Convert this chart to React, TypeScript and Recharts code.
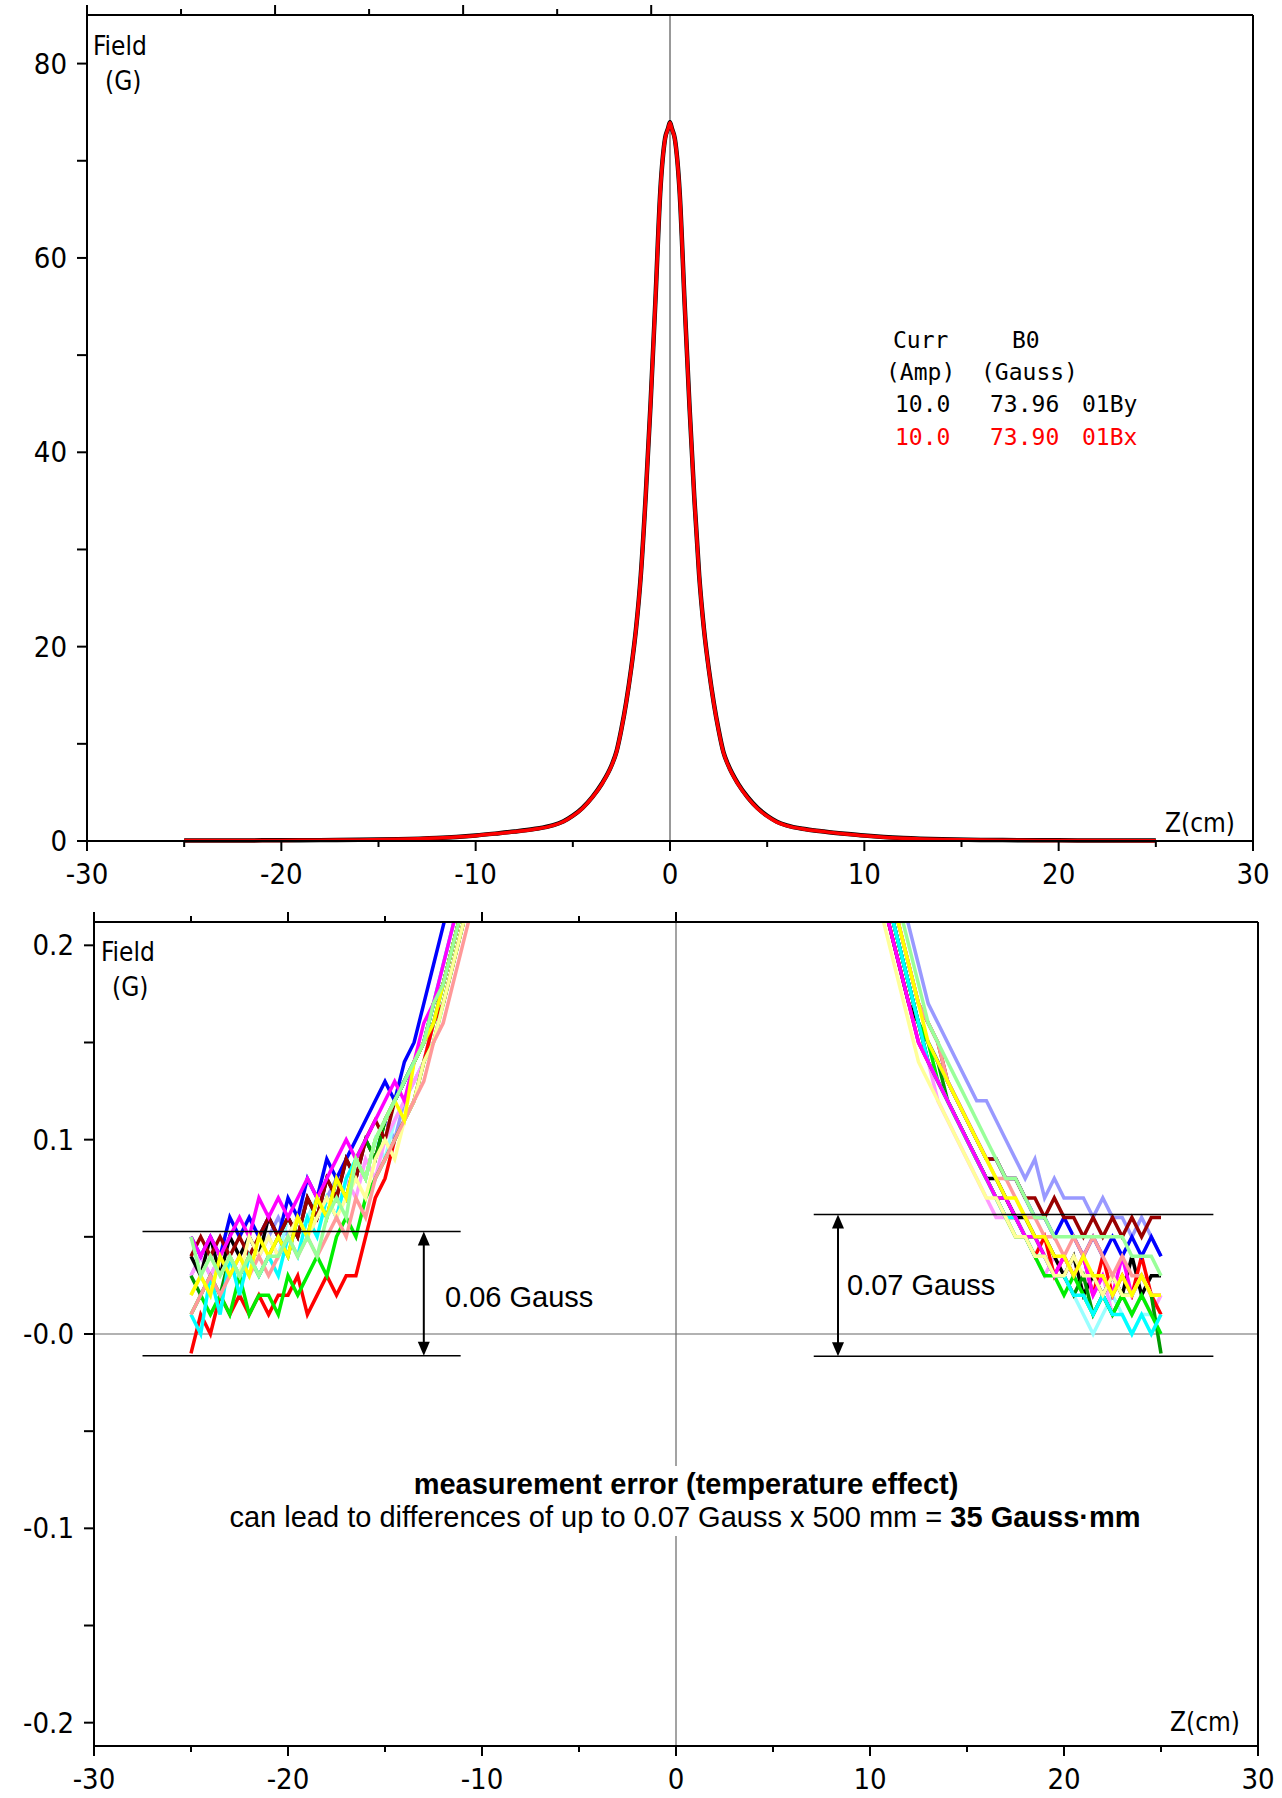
import React from 'react';
import { LineChart, Line, XAxis, YAxis, ReferenceLine } from 'recharts';

// ---- top panel: on-axis field profile, z in cm, field in gauss ----
const TOP_Z = [-25, -22, -20, -18, -16, -14, -12, -11, -10, -9, -8, -7, -6, -5.5, -5, -4.5, -4, -3.5, -3, -2.75, -2.5, -2.25, -2, -1.75, -1.5, -1.25, -1, -0.75, -0.5, -0.25, -0.1, 0, 0.1, 0.25, 0.5, 0.75, 1, 1.25, 1.5, 1.75, 2, 2.25, 2.5, 2.75, 3, 3.5, 4, 4.5, 5, 5.5, 6, 7, 8, 9, 10, 11, 12, 14, 16, 18, 20, 22, 25];
const BY_01 = [0.05, 0.06, 0.07, 0.09, 0.12, 0.18, 0.31, 0.42, 0.57, 0.76, 0.97, 1.23, 1.63, 2.01, 2.61, 3.42, 4.52, 5.92, 7.82, 9.22, 11.52, 14.32, 17.72, 21.82, 27.42, 35.52, 45.02, 55.62, 66.82, 72.32, 73.34, 73.96, 73.3, 72.25, 66.65, 55.45, 44.85, 35.35, 27.35, 21.75, 17.65, 14.25, 11.45, 9.15, 7.8, 5.9, 4.5, 3.4, 2.6, 1.99, 1.61, 1.21, 0.96, 0.75, 0.56, 0.41, 0.3, 0.17, 0.11, 0.085, 0.065, 0.055, 0.045];
const BX_01 = [0.04, 0.05, 0.06, 0.08, 0.11, 0.17, 0.3, 0.4, 0.55, 0.74, 0.95, 1.2, 1.6, 1.98, 2.58, 3.38, 4.48, 5.88, 7.78, 9.18, 11.48, 14.28, 17.68, 21.78, 27.38, 35.48, 44.98, 55.58, 66.78, 72.28, 73.28, 73.9, 73.25, 72.2, 66.6, 55.4, 44.8, 35.3, 27.3, 21.7, 17.6, 14.2, 11.4, 9.1, 7.75, 5.85, 4.45, 3.35, 2.55, 1.95, 1.58, 1.18, 0.94, 0.73, 0.54, 0.39, 0.29, 0.16, 0.1, 0.075, 0.055, 0.045, 0.035];

const LEGEND_ROWS = [
  { curr: '10.0', b0: '73.96', id: '01By', color: '#000000' },
  { curr: '10.0', b0: '73.90', id: '01Bx', color: '#ff0000' },
];

// ---- bottom panel: tails of repeated measurements, values in 0.01 G ----
const LEFT_Z = [-25, -24.5, -24, -23.5, -23, -22.5, -22, -21.5, -21, -20.5, -20, -19.5, -19, -18.5, -18, -17.5, -17, -16.5, -16, -15.5, -15, -14.5, -14, -13.5, -13, -12.5, -12, -11.5, -11, -10.5];
const RIGHT_Z = [10.5, 11, 11.5, 12, 12.5, 13, 13.5, 14, 14.5, 15, 15.5, 16, 16.5, 17, 17.5, 18, 18.5, 19, 19.5, 20, 20.5, 21, 21.5, 22, 22.5, 23, 23.5, 24, 24.5, 25];

const L_BLACK = [4, 3, 5, 3, 5, 4, 5, 4, 6, 5, 6, 5, 7, 6, 8, 7, 9, 8, 10, 9, 11, 12, 13, 14, 15, 17, 18, 20, 22, 24];
const L_RED = [-1, 1, 0, 2, 1, 2, 1, 2, 1, 2, 2, 3, 1, 2, 3, 2, 3, 3, 5, 7, 8, 10, 11, 12, 14, 16, 17, 19, 21, 23];
const L_GREEN = [1, 2, 1, 2, 1, 3, 1, 2, 2, 1, 3, 2, 3, 4, 3, 5, 6, 5, 7, 8, 9, 10, 11, 12, 14, 15, 17, 19, 21, 23];
const L_BLUE = [5, 4, 5, 4, 6, 5, 6, 5, 6, 5, 7, 6, 8, 7, 9, 8, 9, 10, 11, 12, 13, 12, 14, 15, 17, 19, 21, 23, 25, 27];
const L_YELLOW = [2, 3, 2, 4, 3, 4, 3, 5, 4, 5, 4, 6, 5, 7, 6, 8, 7, 9, 8, 10, 11, 12, 11, 14, 15, 16, 18, 20, 22, 24];
const L_MAGENTA = [5, 4, 5, 4, 5, 6, 5, 7, 6, 7, 6, 7, 8, 7, 8, 9, 10, 9, 10, 11, 12, 13, 12, 14, 16, 17, 19, 21, 23, 25];
const L_CYAN = [1, 0, 3, 1, 4, 2, 4, 3, 4, 3, 5, 4, 6, 5, 7, 6, 8, 9, 8, 10, 11, 12, 13, 14, 15, 17, 19, 21, 23, 25];
const L_DKGREEN = [3, 2, 3, 2, 4, 3, 4, 3, 4, 5, 4, 6, 5, 7, 6, 8, 7, 9, 10, 9, 11, 12, 13, 14, 15, 16, 18, 20, 22, 24];
const L_DKRED = [4, 5, 4, 5, 4, 5, 4, 5, 6, 5, 6, 5, 7, 6, 8, 7, 9, 8, 10, 11, 10, 12, 13, 14, 15, 17, 18, 20, 22, 24];
const L_SALMON = [1, 2, 3, 2, 3, 4, 3, 4, 3, 4, 5, 4, 5, 4, 5, 6, 5, 7, 6, 8, 9, 10, 11, 12, 13, 15, 16, 18, 20, 22];
const L_LTGREEN = [5, 3, 4, 3, 4, 3, 4, 3, 4, 4, 5, 4, 5, 4, 6, 7, 6, 9, 8, 10, 11, 12, 13, 14, 15, 17, 18, 20, 22, 24];
const L_LAVENDER = [3, 4, 3, 4, 5, 4, 5, 4, 5, 6, 5, 6, 7, 6, 7, 8, 7, 9, 8, 10, 11, 10, 12, 13, 14, 16, 17, 19, 21, 23];
const L_LTYELLOW = [2, 3, 4, 3, 4, 3, 5, 4, 5, 4, 5, 6, 5, 6, 7, 6, 7, 8, 7, 9, 10, 9, 11, 12, 14, 15, 17, 19, 21, 23];
const L_PINK = [3, 4, 3, 4, 3, 4, 5, 4, 5, 4, 5, 6, 5, 6, 7, 6, 8, 7, 9, 8, 10, 11, 12, 13, 14, 16, 17, 19, 21, 23];
const L_LTCYAN = [2, 3, 2, 4, 3, 4, 5, 4, 5, 4, 6, 5, 6, 7, 6, 8, 7, 9, 8, 10, 9, 11, 12, 13, 14, 16, 18, 20, 22, 24];

const R_BLACK = [23, 21, 19, 17, 16, 14, 13, 12, 11, 10, 9, 8, 8, 7, 6, 6, 5, 5, 4, 3, 4, 2, 3, 2, 3, 2, 4, 2, 3, 3];
const R_RED = [23, 21, 19, 17, 15, 14, 13, 12, 11, 10, 9, 8, 7, 6, 6, 5, 4, 5, 3, 4, 3, 4, 2, 4, 2, 3, 2, 4, 2, 1];
const R_GREEN = [24, 22, 20, 18, 16, 15, 13, 12, 11, 10, 9, 8, 7, 6, 5, 5, 4, 3, 3, 2, 3, 2, 1, 2, 1, 2, 1, 2, 1, 0];
const R_BLUE = [24, 22, 20, 18, 16, 15, 14, 13, 12, 11, 10, 9, 9, 8, 8, 7, 6, 6, 5, 6, 5, 4, 5, 4, 5, 4, 5, 4, 5, 4];
const R_YELLOW = [25, 23, 21, 19, 17, 15, 14, 13, 12, 11, 10, 9, 8, 7, 7, 6, 5, 5, 4, 4, 3, 4, 3, 3, 2, 3, 2, 3, 2, 2];
const R_MAGENTA = [23, 21, 19, 17, 15, 14, 13, 12, 11, 10, 9, 8, 7, 7, 6, 5, 5, 4, 3, 4, 3, 4, 2, 3, 2, 4, 2, 3, 2, 2];
const R_CYAN = [24, 22, 20, 18, 16, 14, 13, 12, 11, 10, 9, 8, 7, 6, 6, 5, 4, 4, 3, 3, 2, 2, 1, 2, 1, 1, 0, 1, 0, 1];
const R_DKGREEN = [24, 22, 20, 18, 16, 15, 14, 12, 11, 10, 9, 8, 7, 7, 6, 5, 5, 4, 3, 3, 2, 3, 1, 2, 1, 2, 2, 3, 2, -1];
const R_DKRED = [25, 23, 21, 19, 17, 16, 15, 13, 12, 11, 10, 9, 9, 8, 8, 7, 7, 6, 7, 6, 6, 5, 6, 5, 6, 5, 6, 5, 6, 6];
const R_SALMON = [25, 23, 21, 19, 17, 16, 15, 13, 12, 11, 10, 9, 8, 8, 7, 6, 6, 5, 5, 4, 5, 4, 5, 4, 3, 4, 3, 3, 2, 2];
const R_LTGREEN = [26, 24, 22, 20, 18, 16, 15, 14, 13, 12, 11, 10, 9, 8, 8, 7, 6, 6, 5, 5, 5, 5, 5, 5, 5, 5, 4, 4, 4, 3];
const R_LAVENDER = [27, 25, 23, 21, 19, 17, 16, 15, 14, 13, 12, 12, 11, 10, 9, 8, 9, 7, 8, 7, 7, 7, 6, 7, 6, 6, 5, 6, 5, 4];
const R_LTYELLOW = [22, 20, 18, 16, 14, 13, 12, 11, 10, 9, 8, 7, 7, 6, 5, 5, 4, 4, 3, 3, 4, 3, 3, 2, 3, 2, 2, 3, 2, 2];
const R_PINK = [23, 21, 19, 17, 15, 14, 12, 11, 10, 9, 8, 7, 6, 6, 5, 5, 4, 3, 4, 3, 2, 3, 2, 3, 1, 2, 1, 2, 1, 2];
const R_LTCYAN = [24, 22, 20, 18, 16, 14, 13, 12, 11, 10, 9, 8, 7, 7, 6, 5, 5, 4, 3, 3, 2, 1, 0, 1, 2, 1, 0, 1, 1, 0];

const TRACES = [
  { key: 'lavender', color: '#9999ff', left: L_LAVENDER, right: R_LAVENDER },
  { key: 'ltcyan', color: '#99ffff', left: L_LTCYAN, right: R_LTCYAN },
  { key: 'pink', color: '#ff99ff', left: L_PINK, right: R_PINK },
  { key: 'black', color: '#000000', left: L_BLACK, right: R_BLACK },
  { key: 'red', color: '#ff0000', left: L_RED, right: R_RED },
  { key: 'dkgreen', color: '#009900', left: L_DKGREEN, right: R_DKGREEN },
  { key: 'blue', color: '#0000ff', left: L_BLUE, right: R_BLUE },
  { key: 'dkred', color: '#990000', left: L_DKRED, right: R_DKRED },
  { key: 'green', color: '#00ee00', left: L_GREEN, right: R_GREEN },
  { key: 'cyan', color: '#00ffff', left: L_CYAN, right: R_CYAN },
  { key: 'magenta', color: '#ff00ff', left: L_MAGENTA, right: R_MAGENTA },
  { key: 'ltyellow', color: '#ffff99', left: L_LTYELLOW, right: R_LTYELLOW },
  { key: 'salmon', color: '#ff9999', left: L_SALMON, right: R_SALMON },
  { key: 'yellow', color: '#ffff00', left: L_YELLOW, right: R_YELLOW },
  { key: 'ltgreen', color: '#99ff99', left: L_LTGREEN, right: R_LTGREEN },
];

const Z_TICKS = [-30, -25, -20, -15, -10, -5, 0, 5, 10, 15, 20, 25, 30];
const TOP_Y_TICKS = [0, 10, 20, 30, 40, 50, 60, 70, 80];
const BOT_Y_TICKS = [-0.2, -0.15, -0.1, -0.05, 0, 0.05, 0.1, 0.15, 0.2];

const topRows = TOP_Z.map((z, i) => ({ z, by: BY_01[i], bx: BX_01[i] }));

const traceRow = (z: number, i: number, side: 'left' | 'right') => {
  const row: Record<string, number> = { z };
  TRACES.forEach(t => { row[t.key] = t[side][i] / 100; });
  return row;
};
const bottomRows = [
  ...LEFT_Z.map((z, i) => traceRow(z, i, 'left')),
  { z: 0 }, // break between the two tails
  ...RIGHT_Z.map((z, i) => traceRow(z, i, 'right')),
];

const PAW = "'DejaVu Sans Condensed', 'DejaVu Sans', sans-serif";
const MONO = "'DejaVu Sans Mono', monospace";
const HELV = "'Liberation Sans', Arial, sans-serif";
const AXIS_LINE = { stroke: '#000', strokeWidth: 2 };

const isMajorZ = (v: number) => Math.abs(Math.round(v)) % 10 === 0;

const ZTick = (p: any) => {
  const { x, y, payload, side, showLabel } = p;
  const v = payload.value;
  const len = isMajorZ(v) ? 10 : 6;
  const y2 = side === 'top' ? y - len : y + len;
  return (
    <g>
      <line x1={x} x2={x} y1={y} y2={y2} stroke="#000" strokeWidth={2} />
      {showLabel && isMajorZ(v) && (
        <text x={x} y={y + 33} textAnchor="middle" dominantBaseline="central" fontFamily={PAW} fontStretch="condensed" fontSize={29} fill="#000">
          {String(v)}
        </text>
      )}
    </g>
  );
};

const YTick = (p: any) => {
  const { x, y, payload, side, label } = p;
  const text = label ? label(payload.value) : null;
  const x2 = side === 'right' ? x + 10 : x - 10;
  return (
    <g>
      <line x1={x} x2={x2} y1={y} y2={y} stroke="#000" strokeWidth={2} />
      {text && (
        <text x={x - 20} y={y} textAnchor="end" dominantBaseline="central" fontFamily={PAW} fontStretch="condensed" fontSize={29} fill="#000">
          {text}
        </text>
      )}
    </g>
  );
};

const topLabel = (v: number) => (v % 20 === 0 ? String(v) : null);
const bottomLabel = (v: number) => {
  const c = Math.round(v * 100);
  if (c % 10 !== 0) return null;
  return c === 0 ? '-0.0' : v.toFixed(1);
};

const ArrowShape = (p: any) => {
  const { x1, y1, y2 } = p;
  const top = Math.min(y1, y2);
  const bot = Math.max(y1, y2);
  const h = 14;
  const w = 6;
  return (
    <g>
      <line x1={x1} x2={x1} y1={top + h - 2} y2={bot - h + 2} stroke="#000" strokeWidth={2} />
      <polygon points={`${x1},${top} ${x1 - w},${top + h} ${x1 + w},${top + h}`} fill="#000" />
      <polygon points={`${x1},${bot} ${x1 - w},${bot - h} ${x1 + w},${bot - h}`} fill="#000" />
    </g>
  );
};

const TopChart = () => (
  <LineChart width={1282} height={890} data={topRows} margin={{ top: 0, right: 0, bottom: 0, left: 0 }}>
    <XAxis dataKey="z" type="number" domain={[-30, 30]} ticks={Z_TICKS} interval={0} height={49}
      axisLine={AXIS_LINE} tickLine={false} tickSize={0} tickMargin={0}
      tick={(p: any) => <ZTick {...p} side="bottom" showLabel />} />
    <XAxis xAxisId="t" orientation="top" type="number" domain={[-30, 30]} ticks={Z_TICKS} interval={0} height={15}
      axisLine={AXIS_LINE} tickLine={false} tickSize={0} tickMargin={0}
      tick={(p: any) => <ZTick {...p} side="top" />} />
    <YAxis type="number" domain={[0, 85]} ticks={TOP_Y_TICKS} interval={0} width={87}
      axisLine={AXIS_LINE} tickLine={false} tickSize={0} tickMargin={0}
      tick={(p: any) => <YTick {...p} side="left" label={topLabel} />} />
    <YAxis yAxisId="r" orientation="right" type="number" domain={[0, 85]} ticks={TOP_Y_TICKS} interval={0} width={29}
      axisLine={AXIS_LINE} tickLine={false} tickSize={0} tickMargin={0}
      tick={(p: any) => <YTick {...p} side="right" />} />
    <ReferenceLine x={0} stroke="#777" strokeWidth={1.5} />
    <Line dataKey="by" type="monotone" stroke="#000000" strokeWidth={4.5} dot={false} isAnimationActive={false} />
    <Line dataKey="bx" type="monotone" stroke="#ff0000" strokeWidth={3.5} dot={false} isAnimationActive={false} />
  </LineChart>
);

const BottomChart = () => (
  <LineChart width={1282} height={908} data={bottomRows} margin={{ top: 0, right: 0, bottom: 0, left: 0 }}>
    <XAxis dataKey="z" type="number" domain={[-30, 30]} ticks={Z_TICKS} interval={0} height={52}
      axisLine={AXIS_LINE} tickLine={false} tickSize={0} tickMargin={0}
      tick={(p: any) => <ZTick {...p} side="bottom" showLabel />} />
    <XAxis xAxisId="t" orientation="top" type="number" domain={[-30, 30]} ticks={Z_TICKS} interval={0} height={32}
      axisLine={AXIS_LINE} tickLine={false} tickSize={0} tickMargin={0}
      tick={(p: any) => <ZTick {...p} side="top" />} />
    <YAxis type="number" domain={[-0.212, 0.212]} allowDataOverflow ticks={BOT_Y_TICKS} interval={0} width={94}
      axisLine={AXIS_LINE} tickLine={false} tickSize={0} tickMargin={0}
      tick={(p: any) => <YTick {...p} side="left" label={bottomLabel} />} />
    <YAxis yAxisId="r" orientation="right" type="number" domain={[-0.212, 0.212]} ticks={BOT_Y_TICKS} interval={0} width={24}
      axisLine={AXIS_LINE} tickLine={false} tickSize={0} tickMargin={0}
      tick={(p: any) => <YTick {...p} side="right" />} />
    <ReferenceLine x={0} stroke="#666" strokeWidth={1.2} />
    <ReferenceLine y={0} stroke="#666" strokeWidth={1.2} />
    {TRACES.map(t => (
      <Line key={t.key} dataKey={t.key} type="linear" stroke={t.color} strokeWidth={3.5} dot={false} isAnimationActive={false} />
    ))}
    <ReferenceLine segment={[{ x: -27.5, y: 0.0527 }, { x: -11.1, y: 0.0527 }]} stroke="#000" strokeWidth={1.5} />
    <ReferenceLine segment={[{ x: -27.5, y: -0.0112 }, { x: -11.1, y: -0.0112 }]} stroke="#000" strokeWidth={1.5} />
    <ReferenceLine segment={[{ x: 7.1, y: 0.0615 }, { x: 27.7, y: 0.0615 }]} stroke="#000" strokeWidth={1.5} />
    <ReferenceLine segment={[{ x: 7.1, y: -0.0115 }, { x: 27.7, y: -0.0115 }]} stroke="#000" strokeWidth={1.5} />
    <ReferenceLine segment={[{ x: -13, y: 0.0527 }, { x: -13, y: -0.0112 }]} shape={ArrowShape} />
    <ReferenceLine segment={[{ x: 8.35, y: 0.0615 }, { x: 8.35, y: -0.0115 }]} shape={ArrowShape} />
  </LineChart>
);

const Overlay = () => (
  <svg width={1282} height={1798} style={{ position: 'absolute', left: 0, top: 0, pointerEvents: 'none' }}>
    {/* top panel labels */}
    <text x={93} y={55} fontFamily={PAW} fontSize={26}>Field</text>
    <text x={105} y={90} fontFamily={PAW} fontSize={26}>(G)</text>
    <text x={1165} y={832} fontFamily={PAW} fontSize={26}>Z(cm)</text>
    <g fontFamily={MONO} fontSize={23}>
      <text x={893} y={348}>Curr</text>
      <text x={1012} y={348}>B0</text>
      <text x={886} y={380}>(Amp)</text>
      <text x={981} y={380}>(Gauss)</text>
      {LEGEND_ROWS.map((r, i) => (
        <g key={r.id} fill={r.color}>
          <text x={895} y={412 + i * 33}>{r.curr}</text>
          <text x={990} y={412 + i * 33}>{r.b0}</text>
          <text x={1082} y={412 + i * 33}>{r.id}</text>
        </g>
      ))}
    </g>

    {/* bottom panel labels */}
    <text x={101} y={961} fontFamily={PAW} fontSize={26}>Field</text>
    <text x={112} y={996} fontFamily={PAW} fontSize={26}>(G)</text>
    <text x={1170} y={1731} fontFamily={PAW} fontSize={26}>Z(cm)</text>

    <text x={445} y={1307} fontFamily={HELV} fontSize={29}>0.06 Gauss</text>
    <text x={847} y={1295} fontFamily={HELV} fontSize={29}>0.07 Gauss</text>

    <rect x={220} y={1466} width={930} height={70} fill="#fff" />
    <text x={686} y={1494} textAnchor="middle" fontFamily={HELV} fontSize={29} fontWeight="bold">
      measurement error (temperature effect)
    </text>
    <text x={685} y={1527} textAnchor="middle" fontFamily={HELV} fontSize={29}>
      can lead to differences of up to 0.07 Gauss x 500 mm = <tspan fontWeight="bold">35 Gauss·mm</tspan>
    </text>
  </svg>
);

export default function App() {
  return (
    <div style={{ position: 'absolute', left: 0, top: 0, width: 1282, height: 1798, background: '#fff' }}>
      <div style={{ position: 'absolute', left: 0, top: 0 }}>
        <TopChart />
      </div>
      <div style={{ position: 'absolute', left: 0, top: 890 }}>
        <BottomChart />
      </div>
      <Overlay />
    </div>
  );
}
